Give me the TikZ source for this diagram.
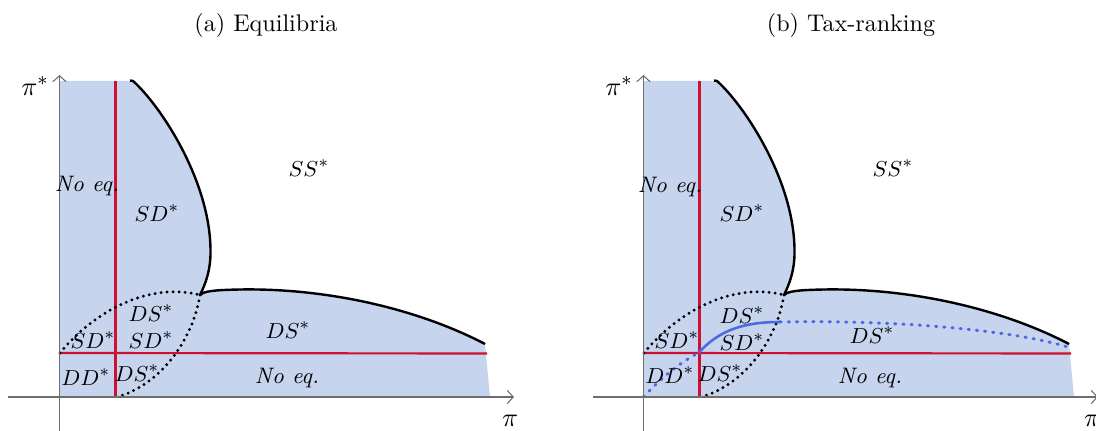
\documentclass[tikz,border=0pt]{standalone}
\usetikzlibrary{arrows.meta}
\definecolor{regfill}{RGB}{198,212,238}
\definecolor{eqred}{RGB}{208,16,48}
\definecolor{rankblue}{RGB}{78,104,228}
\definecolor{axgray}{RGB}{110,110,110}
\tikzset{
  boundary/.style={black, line width=1pt, line join=round},
  eqline/.style={eqred, line width=0.9pt},
  dotarc/.style={black, line width=1.35pt, line cap=round, dash pattern=on 0pt off 2.5pt},
  bluedot/.style={rankblue, line width=1.25pt, line cap=round, dash pattern=on 0.5pt off 2.9pt},
  bluesolid/.style={rankblue, line width=1.05pt},
  axis/.style={axgray, line width=0.45pt, -{Straight Barb[length=2.5pt,width=5.5pt]}},
  lab/.style={font=\fontsize{9.3}{10}\selectfont, inner sep=0pt},
  axlab/.style={font=\fontsize{11}{12}\selectfont, inner sep=0pt},
  ttl/.style={font=\fontsize{10}{12}\selectfont, inner sep=0pt, anchor=base},
}
\newcommand{\panelbase}{%
  \fill[regfill] (59.5,81) -- (133,81)
     .. controls (160,105) and (210,180) .. (210.5,250)
     .. controls (211,270) and (205,285) .. (200,295)
     .. controls (204,291) and (215,290) .. (240,289.5)
     .. controls (330,288) and (420,310) .. (485,344)
     -- (490,397) -- (59.5,397) -- cycle;
  \draw[eqline] (115.5,81) -- (115.5,397);
  \draw[eqline] (60,353) -- (487,353.5);
  \draw[boundary] (130,80.5) -- (133,81)
     .. controls (160,105) and (210,180) .. (210.5,250)
     .. controls (211,270) and (205,285) .. (200,295);
  \draw[boundary] (200,295)
     .. controls (204,291) and (215,290) .. (240,289.5)
     .. controls (330,288) and (420,310) .. (485,344);
  \draw[dotarc] (60,353) .. controls (95,310) and (150,282) .. (200,295);
  \draw[dotarc] (200,295) .. controls (193,340) and (160,385) .. (117,397);
}
\begin{document}
\begin{tikzpicture}[x=0.415pt, y=-0.415pt]
  \useasboundingbox (0,0) rectangle (1096,431);
  \clip (0,0) rectangle (1096,431);
  % ---------- panel (a)
  \node[ttl] (ta) at (266,32) {(a) Equilibria};
  \panelbase
  \coordinate (axo) at (8,397);
  \coordinate (axe) at (514,397);
  \coordinate (ayo) at (59.5,431);
  \coordinate (aye) at (59.5,75);
  \draw[axis] (axo) -- (axe);
  \draw[axis] (ayo) -- (aye);
  \node[axlab] (apis) at (35,86) {$\pi^*$};
  \node[axlab] (api) at (510,421) {$\pi$};
  \node[lab] (a1) at (87,186) {\textit{No eq.}};
  \node[lab] (a2) at (157,213) {$SD^*$};
  \node[lab] (a3) at (309,168) {$SS^*$};
  \node[lab] (a4) at (151,313) {$DS^*$};
  \node[lab] (a5) at (151,340) {$SD^*$};
  \node[lab] (a6) at (93,340) {$SD^*$};
  \node[lab] (a7) at (86,377) {$DD^*$};
  \node[lab] (a8) at (137,373) {$DS^*$};
  \node[lab] (a9) at (288,330) {$DS^*$};
  \node[lab] (a10) at (287,378) {\textit{No eq.}};
  % ---------- panel (b)
  \node[ttl] (tb) at (851,32) {(b) Tax-ranking};
  \begin{scope}[shift={(584,0)}]
    \panelbase
    \draw[bluedot] (59.5,397) .. controls (80,375) and (100,360) .. (114.5,353);
    \draw[bluesolid] (114.5,353) .. controls (135,330) and (160,322) .. (196,322);
    \draw[bluedot] (196,322) .. controls (300,320) and (420,328) .. (484,347);
    \coordinate (bxo) at (9,397);
    \coordinate (bxe) at (514,397);
    \coordinate (byo) at (59.5,431);
    \coordinate (bye) at (59.5,75);
    \draw[axis] (bxo) -- (bxe);
    \draw[axis] (byo) -- (bye);
    \node[axlab] (bpis) at (35,86) {$\pi^*$};
    \node[axlab] (bpi) at (508,421) {$\pi$};
    \node[lab] (b1) at (86,187) {\textit{No eq.}};
    \node[lab] (b2) at (158,213) {$SD^*$};
    \node[lab] (b3) at (309,168) {$SS^*$};
    \node[lab] (b4) at (158,315) {$DS^*$};
    \node[lab] (b5) at (158,342) {$SD^*$};
    \node[lab] (b6) at (93,340) {$SD^*$};
    \node[lab] (b7) at (86,375) {$DD^*$};
    \node[lab] (b8) at (136,373) {$DS^*$};
    \node[lab] (b9) at (288,335) {$DS^*$};
    \node[lab] (b10) at (286,378) {\textit{No eq.}};
  \end{scope}
\end{tikzpicture}
\end{document}
